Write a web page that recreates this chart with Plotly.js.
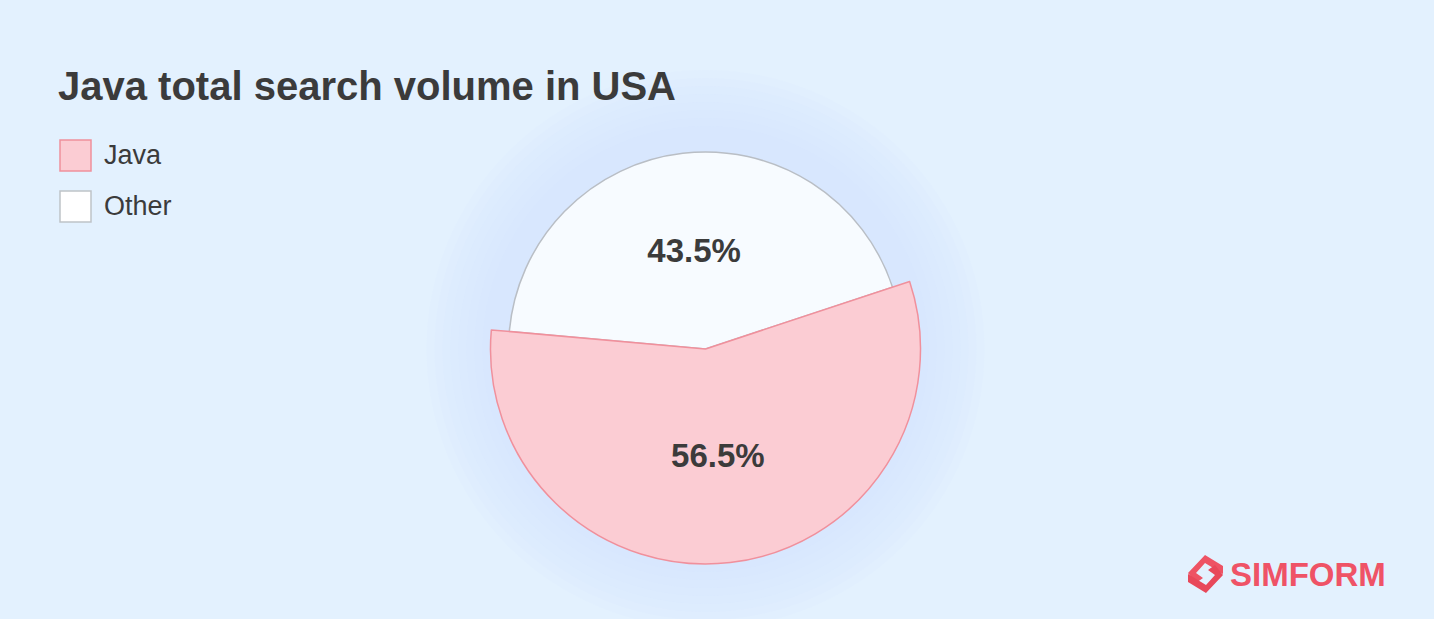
<!DOCTYPE html>
<html>
<head>
<meta charset="utf-8">
<script src="https://cdn.plot.ly/plotly-3.0.1.min.js"></script>
<style>
html,body{margin:0;padding:0;background:#e3f1fe;}
#chart{width:1434px;height:619px;}
</style>
</head>
<body>
<div id="chart"></div>
<script>
// ---- data ----
const categories = ['Java', 'Other'];
const shares = [56.5, 43.5];
const chartTitle = 'Java total search volume in USA';
const brandText = 'SIMFORM';

// ---- styles ----
const W = 1434, H = 619;
const bg = '#e3f1fe';
const fillColors = ['#fbccd3', '#f7fbff'];
const lineColors = ['#f0909c', '#b9bec5'];
const textColor = '#3b3b3b';
const fontFam = '"Liberation Sans", Arial, Helvetica, sans-serif';

const px = x => x / W;
const py = y => 1 - y / H;

// pie geometry in pixels
const cx = 705.5, cy = 349;
const rBig = 215, rSmall = 197;
function dom(r) {
  return { x: [px(cx - r), px(cx + r)], y: [py(cy + r), py(cy - r)] };
}

const common = {
  type: 'pie',
  labels: categories,
  values: shares,
  sort: false,
  direction: 'counterclockwise',
  rotation: 71.7,
  textposition: 'inside',
  insidetextorientation: 'horizontal',
  textfont: { family: fontFam, size: 33, color: textColor, weight: 700 },
  hoverinfo: 'label+percent',
  showlegend: false
};

// smaller pie carrying the "Other" slice
const traceOther = Object.assign({}, common, {
  domain: dom(rSmall),
  marker: { colors: [fillColors[0], fillColors[1]], line: { color: [lineColors[0], lineColors[1]], width: [1.5, 1.5] } },
  texttemplate: ['', '%{percent:.1%}']
});
// larger, emphasised "Java" slice
const traceJava = Object.assign({}, common, {
  domain: dom(rBig),
  marker: { colors: [fillColors[0], 'rgba(0,0,0,0)'], line: { color: [lineColors[0], 'rgba(0,0,0,0)'], width: [1.5, 0] } },
  texttemplate: ['%{percent:.1%}', '']
});

const shapes = [];
const annotations = [];

// soft halo behind the pie
[64, 56, 48, 40, 32, 24, 16, 8].forEach(d => {
  const r = rBig + d;
  shapes.push({
    type: 'circle', xref: 'paper', yref: 'paper', layer: 'below',
    x0: px(cx - r), x1: px(cx + r), y0: py(cy + r), y1: py(cy - r),
    fillcolor: 'rgba(205,226,250,0.06)', line: { width: 0 }
  });
});

// custom legend (large square swatches)
const legX = 60, legY0 = 140, legStep = 51, box = 31;
categories.forEach((c, i) => {
  const y = legY0 + i * legStep;
  shapes.push({
    type: 'rect', xref: 'paper', yref: 'paper',
    x0: px(legX), x1: px(legX + box), y0: py(y + box), y1: py(y),
    fillcolor: i === 0 ? fillColors[0] : '#ffffff',
    line: { color: i === 0 ? lineColors[0] : '#bfc3c8', width: 1.5 }
  });
  annotations.push({
    xref: 'paper', yref: 'paper', x: px(legX + box + 11), y: py(y + box / 2),
    xanchor: 'left', yanchor: 'middle', showarrow: false,
    text: c, font: { family: fontFam, size: 27, color: textColor }
  });
});

// brand mark
const lx = 1188, ly = 555;
shapes.push({
  type: 'path', xref: 'paper', yref: 'paper',
  path: [
    [lx + 17, ly], [lx + 35, ly + 11], [lx + 35, ly + 19], [lx + 17, ly + 8],
    [lx + 8, ly + 18], [lx + 15, ly + 23], [lx + 8, ly + 28], [lx, ly + 18]
  ].map((p, k) => (k ? 'L' : 'M') + px(p[0]) + ',' + py(p[1])).join(' ') + ' Z',
  fillcolor: '#ee5364', line: { width: 0 }
});
shapes.push({
  type: 'path', xref: 'paper', yref: 'paper',
  path: [
    [lx + 18, ly + 38], [lx, ly + 27], [lx, ly + 19], [lx + 18, ly + 30],
    [lx + 27, ly + 20], [lx + 20, ly + 15], [lx + 27, ly + 10], [lx + 35, ly + 20]
  ].map((p, k) => (k ? 'L' : 'M') + px(p[0]) + ',' + py(p[1])).join(' ') + ' Z',
  fillcolor: '#e8485a', line: { width: 0 }
});
annotations.push({
  xref: 'paper', yref: 'paper', x: px(1228), y: py(574),
  xanchor: 'left', yanchor: 'middle', showarrow: false,
  text: brandText, font: { family: fontFam, size: 33, color: '#ef5366', weight: 700 }
});

const layout = {
  width: W, height: H,
  margin: { l: 0, r: 0, t: 0, b: 0 },
  paper_bgcolor: bg, plot_bgcolor: bg,
  title: {
    text: chartTitle, x: px(58), xanchor: 'left', xref: 'paper',
    y: py(86), yanchor: 'middle', yref: 'paper',
    font: { family: fontFam, size: 40, color: textColor, weight: 700 }
  },
  shapes: shapes,
  annotations: annotations,
  showlegend: false
};

Plotly.newPlot('chart', [traceOther, traceJava], layout, { displayModeBar: false, staticPlot: true });
</script>
</body>
</html>
